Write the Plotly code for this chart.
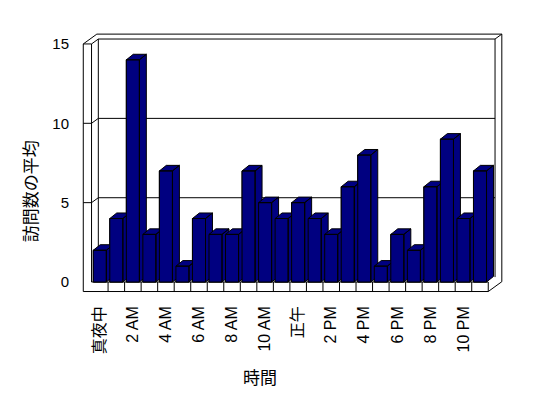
import plotly.graph_objects as go

# ---- data ----
hours = list(range(24))
visits = [2, 4, 14, 3, 7, 1, 4, 3, 3, 7, 5, 4, 5, 4, 3, 6, 8, 1, 3, 2, 6, 9, 4, 7]
tick_positions = list(range(0, 24, 2))
tick_labels = ["真夜中", "2 AM", "4 AM", "6 AM", "8 AM", "10 AM",
               "正午", "2 PM", "4 PM", "6 PM", "8 PM", "10 PM"]
y_ticks = [0, 5, 10, 15]
y_title = "訪問数の平均"
x_title = "時間"

# ---- style / geometry of the pseudo-3D frame ----
NAVY = "#000080"
BAR_W = 0.79
BDX, BDY = 0.42, 0.35      # bar depth (oblique projection)
WDX, WDY = 0.41, 0.31      # wall depth
XL, XR = -0.5, 23.5        # category span
YT = 15                    # top of value axis
WALL_T = 0.5               # left wall thickness
FLOOR_T = 0.6              # floor thickness
JP = "Noto Sans CJK JP"
LAT = "Liberation Sans, Noto Sans CJK JP"

fig = go.Figure()

# official bar trace (front faces)
fig.add_trace(go.Bar(x=hours, y=visits, width=BAR_W,
                     marker=dict(color=NAVY, line=dict(color="black", width=1)),
                     hoverinfo="skip"))

# ---- frame ----
xo = XL - WALL_T
yb = -FLOOR_T
bx0, bx1, byt = XL + WDX, XR + WDX, YT + WDY
ox0, ox1, oyt = xo + 2 * WDX, XR + 2 * WDX, YT + 2 * WDY

segs = [
    [(xo, YT), (xo, yb), (XR, yb), (XR, 0), (XL, 0)],
    [(XL, 0), (XL, YT), (xo, YT)],
    [(xo, YT), (ox0, oyt), (ox1, oyt), (ox1, yb + 2 * WDY), (XR, yb)],
    [(XL, YT), (bx0, byt), (bx1, byt), (ox1, oyt)],
    [(bx0, byt), (bx0, WDY)],
    [(bx1, byt), (bx1, WDY)],
]
for v in y_ticks[1:-1]:
    segs.append([(xo, v), (XL, v), (bx0, v + WDY), (bx1, v + WDY)])
for k in range(1, 24):
    segs.append([(XL + k, yb), (XL + k, 0)])

fx, fy = [], []
for s in segs:
    for px, py in s:
        fx.append(px)
        fy.append(py)
    fx.append(None)
    fy.append(None)
fig.add_trace(go.Scatter(x=fx, y=fy, mode="lines",
                         line=dict(color="black", width=1),
                         hoverinfo="skip"))

# ---- 3D bar faces, drawn left to right ----
for i, v in zip(hours, visits):
    x0, x1 = i - BAR_W / 2, i + BAR_W / 2
    side = [(x1, 0), (x1 + BDX, BDY), (x1 + BDX, v + BDY), (x1, v), (x1, 0)]
    top = [(x0, v), (x1, v), (x1 + BDX, v + BDY), (x0 + BDX, v + BDY), (x0, v)]
    front = [(x0, 0), (x1, 0), (x1, v), (x0, v), (x0, 0)]
    px_, py_ = [], []
    for poly in (side, top, front):
        for a, b in poly:
            px_.append(a)
            py_.append(b)
        px_.append(None)
        py_.append(None)
    fig.add_trace(go.Scatter(x=px_, y=py_, mode="lines", fill="toself",
                             fillcolor=NAVY,
                             line=dict(color="black", width=1),
                             hoverinfo="skip"))

fig.update_layout(
    width=548, height=398,
    margin=dict(l=80, r=38, t=28, b=98),
    paper_bgcolor="white", plot_bgcolor="white",
    showlegend=False,
    font=dict(family=LAT, color="black"),
    xaxis=dict(range=[-1.198, 24.815], tickvals=tick_positions, ticktext=tick_labels,
               tickangle=-90, showgrid=False, zeroline=False, showline=False,
               ticks="", ticklabelstandoff=2,
               tickfont=dict(family=LAT, size=16, color="#000000")),
    yaxis=dict(range=[-1.134, 16.005], tickvals=y_ticks, showgrid=False,
               zeroline=False, showline=False, ticks="", ticklabelstandoff=10,
               tickfont=dict(family=LAT, size=15, color="#000000")),
    annotations=[
        dict(text=y_title, xref="paper", yref="paper", x=(29 - 80) / 430,
             y=(300 - 192) / 270, textangle=-90, showarrow=False,
             xanchor="center", yanchor="middle",
             font=dict(family=JP, size=17, color="black")),
        dict(text=x_title, xref="paper", yref="paper", x=(260 - 80) / 430,
             y=(300 - 376) / 270, showarrow=False,
             xanchor="center", yanchor="middle",
             font=dict(family=JP, size=17, color="black")),
    ],
)

fig.write_html("out.html", config={"displayModeBar": False},
               post_script="document.body.style.margin='0';")
